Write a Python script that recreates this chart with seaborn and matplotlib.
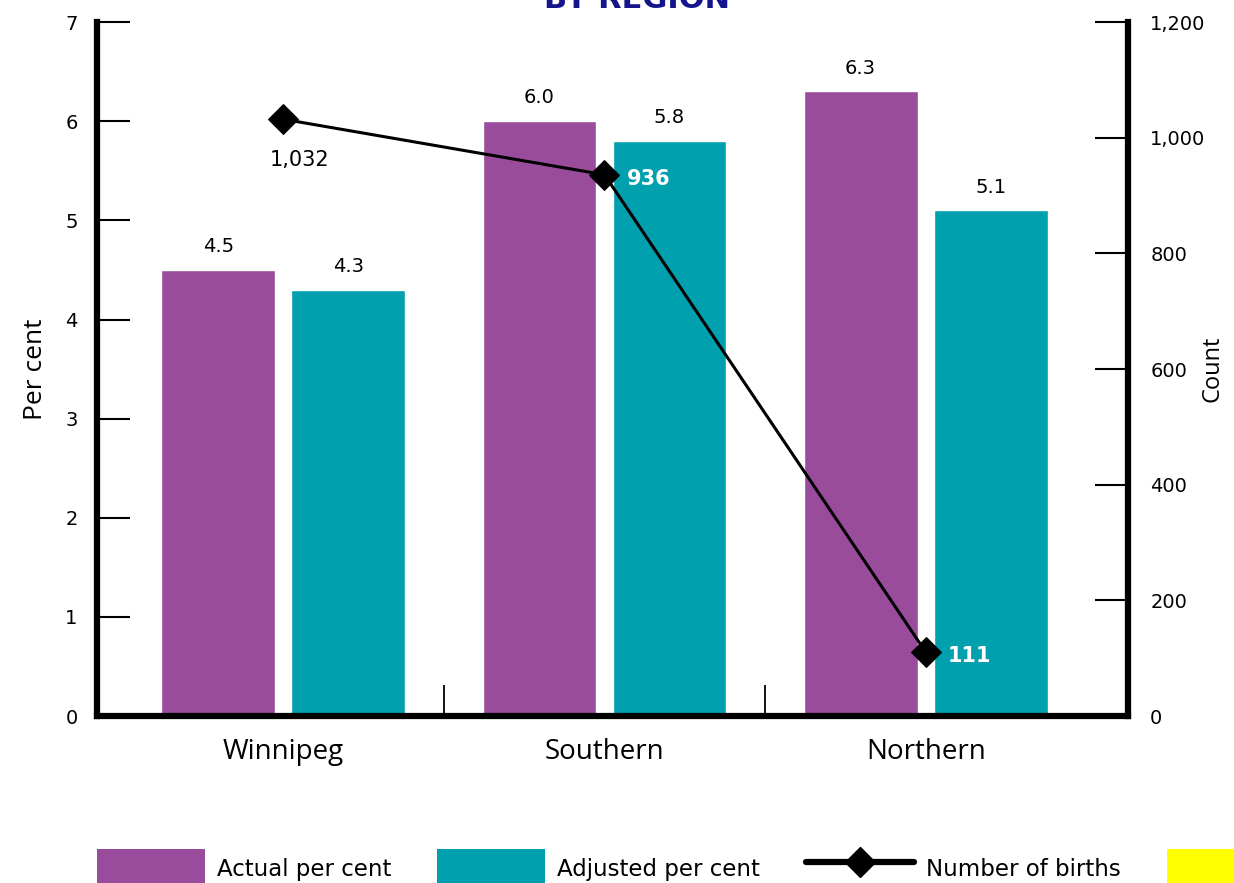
import numpy as np
import pandas as pd
import matplotlib
matplotlib.use('Agg')
import matplotlib.pyplot as plt
import seaborn as sns
from matplotlib.patches import Patch
from matplotlib.lines import Line2D
from matplotlib.ticker import FuncFormatter

# data
regions = ['Winnipeg', 'Southern', 'Northern']
actual_pct = [4.5, 6.0, 6.3]
adjusted_pct = [4.3, 5.8, 5.1]
births = [1032, 936, 111]

PURPLE = '#9A4C9C'
TEAL = '#00A0AE'
YELLOW = '#FFFF00'
NAVY = '#14148C'

df = pd.DataFrame({
    'region': regions * 2,
    'value': actual_pct + adjusted_pct,
    'series': ['Actual per cent'] * 3 + ['Adjusted per cent'] * 3,
})

sns.set_style('white')
plt.rcParams['font.family'] = ['Open Sans', 'DejaVu Sans']
plt.rcParams.update({'text.color': 'black', 'axes.labelcolor': 'black',
                     'xtick.color': 'black', 'ytick.color': 'black'})

fig = plt.figure(figsize=(12.34, 8.83), dpi=100)
ax = fig.add_axes([0.0786, 0.189, 0.8355, 0.786])

sns.barplot(data=df, x='region', y='value', hue='series', order=regions,
            palette=[PURPLE, TEAL], width=0.81, gap=0.125, legend=False,
            saturation=1, ax=ax)
for cont in ax.containers:
    ax.bar_label(cont, fmt='%.1f', padding=10, fontsize=14, family='DejaVu Sans',
                 color='black')

ax.set_xlim(-0.58, 2.63)
ax.set_ylim(0, 7)
ax.set_yticks(range(0, 8))
ax.set_xlabel('')
ax.set_ylabel('Per cent', fontsize=19, labelpad=12)
ax.set_xticks([0.5, 1.5], minor=True)
ax.tick_params(axis='x', which='major', bottom=True, length=0, labelsize=20, pad=16)
ax.tick_params(axis='x', which='minor', bottom=True, direction='in', length=22,
               width=1.3, color='black')
ax.tick_params(axis='y', left=True, direction='in', length=24, width=1.5,
               labelsize=14, pad=14, color='black')
for t in ax.get_yticklabels():
    t.set_family('DejaVu Sans')

for side in ['left', 'bottom']:
    ax.spines[side].set_linewidth(4.5)
    ax.spines[side].set_color('black')
ax.spines['top'].set_visible(False)
ax.spines['right'].set_visible(False)

# births on the right axis
ax2 = ax.twinx()
x_pos = list(range(len(regions)))
sns.lineplot(x=x_pos, y=births, ax=ax2, color='black', linewidth=2.2,
             marker='D', markersize=15, markeredgecolor='black')
ax2.set_ylim(0, 1200)
ax2.set_yticks(range(0, 1201, 200))
ax2.yaxis.set_major_formatter(FuncFormatter(lambda v, p: f'{int(v):,}'))
ax2.set_ylabel('Count', fontsize=17, labelpad=-4)
ax2.tick_params(axis='y', right=True, direction='in', length=24, width=1.5,
                labelsize=14, pad=16, color='black')
for t in ax2.get_yticklabels():
    t.set_family('DejaVu Sans')
ax2.spines['right'].set_linewidth(4.5)
ax2.spines['right'].set_color('black')
for side in ['top', 'left', 'bottom']:
    ax2.spines[side].set_visible(False)
ax2.set_xlim(-0.58, 2.63)

ax2.annotate(f'{births[0]:,}', (x_pos[0], births[0]), xytext=(12, -29),
             textcoords='offset points', ha='center', va='center',
             fontsize=15, family='DejaVu Sans', color='black')
for i in (1, 2):
    ax2.annotate(f'{births[i]:,}', (x_pos[i], births[i]), xytext=(16, -3),
                 textcoords='offset points', ha='left', va='center',
                 fontsize=15, family='DejaVu Sans', fontweight='bold', color='white')

# title (cut at the top edge, as in the source)
fig.text(0.516, 1.0, 'BY REGION', ha='center', va='center', color=NAVY,
         fontsize=22, fontweight='bold', family='DejaVu Sans')

# legend along the bottom
handles = [Patch(facecolor=PURPLE, edgecolor='none'),
           Patch(facecolor=TEAL, edgecolor='none'),
           Line2D([0], [0], color='black', linewidth=4.5, marker='D', markersize=15),
           Patch(facecolor=YELLOW, edgecolor='none')]
labels = ['Actual per cent', 'Adjusted per cent', 'Number of births', '']
fig.legend(handles, labels, loc='lower left', bbox_to_anchor=(0.0786, -0.005),
           ncol=4, frameon=False, handlelength=4.72, handleheight=2.18,
           handletextpad=0.52, columnspacing=2.0, borderpad=0, borderaxespad=0,
           prop={'family': ['DejaVu Sans Condensed', 'Liberation Sans Narrow',
                            'DejaVu Sans'], 'size': 16.5})

fig.savefig('out.png', dpi=100)
